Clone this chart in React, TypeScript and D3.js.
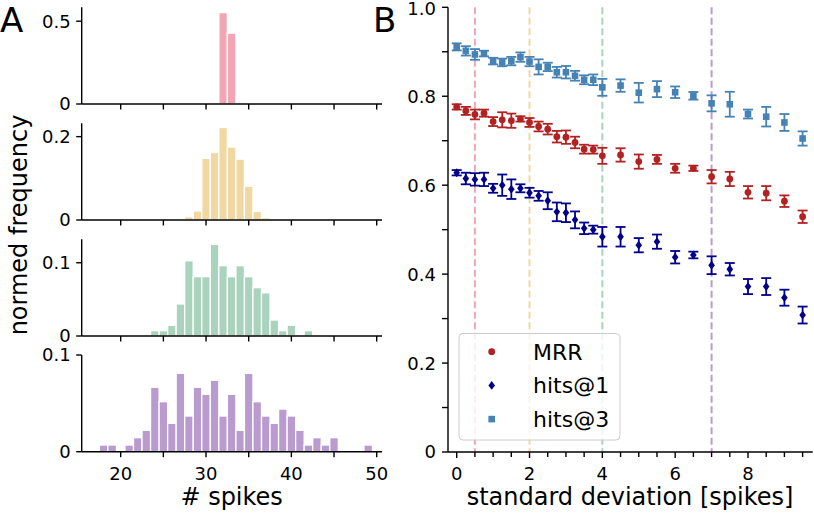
import React from "react";
import * as d3 from "d3";

// ---------- Data ----------
const pinkBins = [31, 32, 33, 34];
const pinkVals = [0.008, 0.552, 0.428, 0.008];

const yellowBins = [28, 29, 30, 31, 32, 33, 34, 35, 36, 37];
const yellowVals = [0.008, 0.0216, 0.148, 0.162, 0.222, 0.175, 0.146, 0.081, 0.0206, 0.0056];

const greenBins = [24, 25, 26, 27, 28, 29, 30, 31, 32, 33, 34, 35, 36, 37, 38, 39, 40, 41, 42];
const greenVals = [0.0073, 0.0073, 0.0146, 0.0437, 0.1027, 0.081, 0.081, 0.125, 0.096, 0.081, 0.096, 0.081, 0.066, 0.059, 0.0218, 0.0073, 0.0146, 0, 0.0073];

const purpleBins = [18, 19, 20, 21, 22, 23, 24, 25, 26, 27, 28, 29, 30, 31, 32, 33, 34, 35, 36, 37, 38, 39, 40, 41, 42, 43, 44, 45, 46, 47, 48, 49];
const purpleVals = [0.0069, 0.0069, 0, 0.0069, 0.0145, 0.0221, 0.0666, 0.0517, 0.0293, 0.081, 0.0369, 0.0666, 0.0593, 0.0738, 0.0369, 0.0593, 0.0221, 0.081, 0.0517, 0.0369, 0.0293, 0.0441, 0.0369, 0.0221, 0.0069, 0.0145, 0.0069, 0.0145, 0, 0, 0, 0.0069];

const histColors = ["#F2A6B5", "#F1D8A3", "#AAD3BD", "#B99BD0"];
const histYMax = [0.584, 0.232, 0.132, 0.1];
const histYTicks = [[0, 0.5], [0, 0.2], [0, 0.1], [0, 0.1]];
const histXMajor = [20, 30, 40, 50];
const histXMinor = [25, 35, 45];

const sdX = [0, 0.25, 0.5, 0.75, 1, 1.25, 1.5, 1.75, 2, 2.25, 2.5, 2.75, 3, 3.25, 3.5, 3.75, 4, 4.5, 5, 5.5, 6, 6.5, 7, 7.5, 8, 8.5, 9, 9.5];
const mrr = [0.776, 0.767, 0.759, 0.762, 0.743, 0.747, 0.745, 0.749, 0.741, 0.732, 0.726, 0.709, 0.708, 0.696, 0.681, 0.68, 0.666, 0.668, 0.653, 0.658, 0.638, 0.638, 0.619, 0.614, 0.584, 0.582, 0.564, 0.529];
const mrrErr = [0.006, 0.009, 0.011, 0.008, 0.01, 0.017, 0.016, 0.006, 0.01, 0.011, 0.012, 0.013, 0.015, 0.013, 0.01, 0.009, 0.018, 0.015, 0.016, 0.01, 0.01, 0.006, 0.015, 0.016, 0.014, 0.016, 0.013, 0.014];
const hits1 = [0.628, 0.615, 0.613, 0.613, 0.593, 0.6, 0.591, 0.593, 0.583, 0.576, 0.565, 0.54, 0.538, 0.522, 0.503, 0.5, 0.484, 0.484, 0.465, 0.473, 0.438, 0.443, 0.42, 0.411, 0.372, 0.372, 0.347, 0.308];
const hits1Err = [0.006, 0.013, 0.014, 0.015, 0.01, 0.024, 0.022, 0.009, 0.011, 0.011, 0.019, 0.021, 0.021, 0.019, 0.013, 0.009, 0.022, 0.022, 0.016, 0.016, 0.014, 0.0075, 0.02, 0.014, 0.017, 0.019, 0.018, 0.019];
const hits3 = [0.911, 0.902, 0.894, 0.896, 0.879, 0.876, 0.879, 0.888, 0.878, 0.866, 0.866, 0.854, 0.854, 0.846, 0.837, 0.837, 0.82, 0.824, 0.808, 0.816, 0.809, 0.801, 0.784, 0.782, 0.76, 0.754, 0.741, 0.705];
const hits3Err = [0.008, 0.0105, 0.012, 0.0064, 0.0075, 0.0086, 0.0094, 0.0105, 0.0105, 0.017, 0.0094, 0.012, 0.014, 0.011, 0.01, 0.012, 0.019, 0.014, 0.022, 0.018, 0.013, 0.0086, 0.018, 0.028, 0.01, 0.022, 0.019, 0.016];

const vLines = [0.5, 2, 4, 7];
const seriesNames = ["MRR", "hits@1", "hits@3"];
const seriesColors = ["#b22222", "#00008b", "#4682b4"];

const rxMajor = [0, 2, 4, 6, 8];
const rxMinor = [0.5, 1, 1.5, 2.5, 3, 3.5, 4.5, 5, 5.5, 6.5, 7, 7.5, 8.5, 9, 9.5];
const ryMajor = [0, 0.2, 0.4, 0.6, 0.8, 1.0];
const ryMinor = [0.1, 0.3, 0.5, 0.7, 0.9];

const FONT = "DejaVu Sans";

function Marker({ kind, x, y, color }: { kind: number; x: number; y: number; color: string }) {
  if (kind === 0) return <circle cx={x} cy={y} r={3.4} fill={color} />;
  if (kind === 1)
    return <polygon points={`${x},${y - 4.4} ${x + 3.3},${y} ${x},${y + 4.4} ${x - 3.3},${y}`} fill={color} />;
  return <rect x={x - 3.3} y={y - 3.3} width={6.6} height={6.6} fill={color} />;
}

export default function App() {
  const xL = d3.scaleLinear().domain([15.43, 50.62]).range([81.7, 382]);
  const panelBottoms = [104, 220, 336, 451.7];
  const panelH = 96.7;
  const hists = [
    [pinkBins, pinkVals],
    [yellowBins, yellowVals],
    [greenBins, greenVals],
    [purpleBins, purpleVals],
  ];

  const xR = d3.scaleLinear().domain([-0.239, 9.777]).range([448, 812.7]);
  const yR = d3.scaleLinear().domain([0, 1]).range([452, 7.3]);
  const series = [
    [mrr, mrrErr],
    [hits1, hits1Err],
    [hits3, hits3Err],
  ];

  const tickLen = 5.5;
  const sw = 1.4;

  return (
    <svg width={814} height={513} style={{ position: "absolute", left: 0, top: 0, background: "#fff" }} fontFamily={FONT}>
      <rect x={0} y={0} width={814} height={513} fill="#fff" />
      {/* Panel letters */}
      <text x={0} y={32} fontSize={34}>A</text>
      <text x={373} y={32} fontSize={34}>B</text>

      {/* Left histograms */}
      {hists.map(([bins, vals], i) => {
        const yS = d3.scaleLinear().domain([0, histYMax[i]]).range([panelBottoms[i], panelBottoms[i] - panelH]);
        return (
          <g key={i}>
            {(bins as number[]).map((b, j) => {
              const v = (vals as number[])[j];
              if (v <= 0) return null;
              const x0 = xL(b - 0.5);
              const x1 = xL(b + 0.5);
              return (
                <rect key={j} x={x0} y={yS(v)} width={x1 - x0} height={yS(0) - yS(v)} fill={histColors[i]} stroke="#fff" strokeWidth={1.3} />
              );
            })}
            {/* spines */}
            <line x1={xL.range()[0]} x2={xL.range()[0]} y1={yS.range()[0]} y2={yS.range()[1]} stroke="#000" strokeWidth={sw} />
            <line x1={xL.range()[0]} x2={xL.range()[1]} y1={yS(0)} y2={yS(0)} stroke="#000" strokeWidth={sw} />
            {histYTicks[i].map((t) => (
              <g key={t}>
                <line x1={xL.range()[0] - tickLen} x2={xL.range()[0]} y1={yS(t)} y2={yS(t)} stroke="#000" strokeWidth={sw} />
                <text x={xL.range()[0] - 11} y={yS(t)} dy="0.36em" fontSize={18} textAnchor="end">{t === 0 ? "0" : String(t)}</text>
              </g>
            ))}
            {[...histXMajor, ...histXMinor].map((t) => (
              <line key={t} x1={xL(t)} x2={xL(t)} y1={yS(0)} y2={yS(0) + tickLen} stroke="#000" strokeWidth={sw} />
            ))}
            {i === 3 &&
              histXMajor.map((t) => (
                <text key={t} x={xL(t)} y={480} fontSize={18} textAnchor="middle">{t}</text>
              ))}
          </g>
        );
      })}
      <text x={xL(33)} y={505} fontSize={24} textAnchor="middle">{"# spikes"}</text>
      <text transform="translate(27,225) rotate(-90)" fontSize={24} textAnchor="middle">normed frequency</text>

      {/* Right panel */}
      {vLines.map((v, i) => (
        <line key={v} x1={xR(v)} x2={xR(v)} y1={yR(1)} y2={yR(0)} stroke={histColors[i]} strokeWidth={2} strokeDasharray="7,3.5" />
      ))}
      {series.map(([vals, errs], si) => (
        <g key={si}>
          {sdX.map((x, j) => {
            const cx = xR(x);
            const yt = yR(vals[j] + errs[j]);
            const yb = yR(vals[j] - errs[j]);
            const c = seriesColors[si];
            return (
              <g key={j}>
                <line x1={cx} x2={cx} y1={yt} y2={yb} stroke={c} strokeWidth={1.8} />
                <line x1={cx - 5} x2={cx + 5} y1={yt} y2={yt} stroke={c} strokeWidth={1.8} />
                <line x1={cx - 5} x2={cx + 5} y1={yb} y2={yb} stroke={c} strokeWidth={1.8} />
                <Marker kind={si} x={cx} y={yR(vals[j])} color={c} />
              </g>
            );
          })}
        </g>
      ))}
      {/* Right axes */}
      <line x1={xR.range()[0]} x2={xR.range()[0]} y1={yR(0)} y2={yR(1)} stroke="#000" strokeWidth={sw} />
      <line x1={xR.range()[0]} x2={xR.range()[1]} y1={yR(0)} y2={yR(0)} stroke="#000" strokeWidth={sw} />
      {ryMajor.map((t) => (
        <g key={t}>
          <line x1={xR.range()[0] - 6} x2={xR.range()[0]} y1={yR(t)} y2={yR(t)} stroke="#000" strokeWidth={sw} />
          <text x={xR.range()[0] - 12} y={yR(t) + (t === 1 ? 1.5 : 0)} dy="0.36em" fontSize={18} textAnchor="end">{t === 0 ? "0" : t.toFixed(1)}</text>
        </g>
      ))}
      {ryMinor.map((t) => (
        <line key={t} x1={xR.range()[0] - 6} x2={xR.range()[0]} y1={yR(t)} y2={yR(t)} stroke="#000" strokeWidth={sw} />
      ))}
      {rxMajor.map((t) => (
        <g key={t}>
          <line x1={xR(t)} x2={xR(t)} y1={yR(0)} y2={yR(0) + 6} stroke="#000" strokeWidth={sw} />
          <text x={xR(t)} y={480} fontSize={18} textAnchor="middle">{t}</text>
        </g>
      ))}
      {rxMinor.map((t) => (
        <line key={t} x1={xR(t)} x2={xR(t)} y1={yR(0)} y2={yR(0) + 5} stroke="#000" strokeWidth={sw} />
      ))}
      <text x={630} y={505} fontSize={24} textAnchor="middle">standard deviation [spikes]</text>

      {/* Legend */}
      <rect x={459} y={333.5} width={161} height={106.5} rx={4} fill="#fff" fillOpacity={0.8} stroke="#cccccc" strokeWidth={1} />
      {seriesNames.map((n, i) => {
        const cy = 351.7 + i * 33.7;
        return (
          <g key={n}>
            <Marker kind={i} x={491.7} y={cy} color={seriesColors[i]} />
            <text x={533} y={cy} dy="0.36em" fontSize={22}>{n}</text>
          </g>
        );
      })}
    </svg>
  );
}
